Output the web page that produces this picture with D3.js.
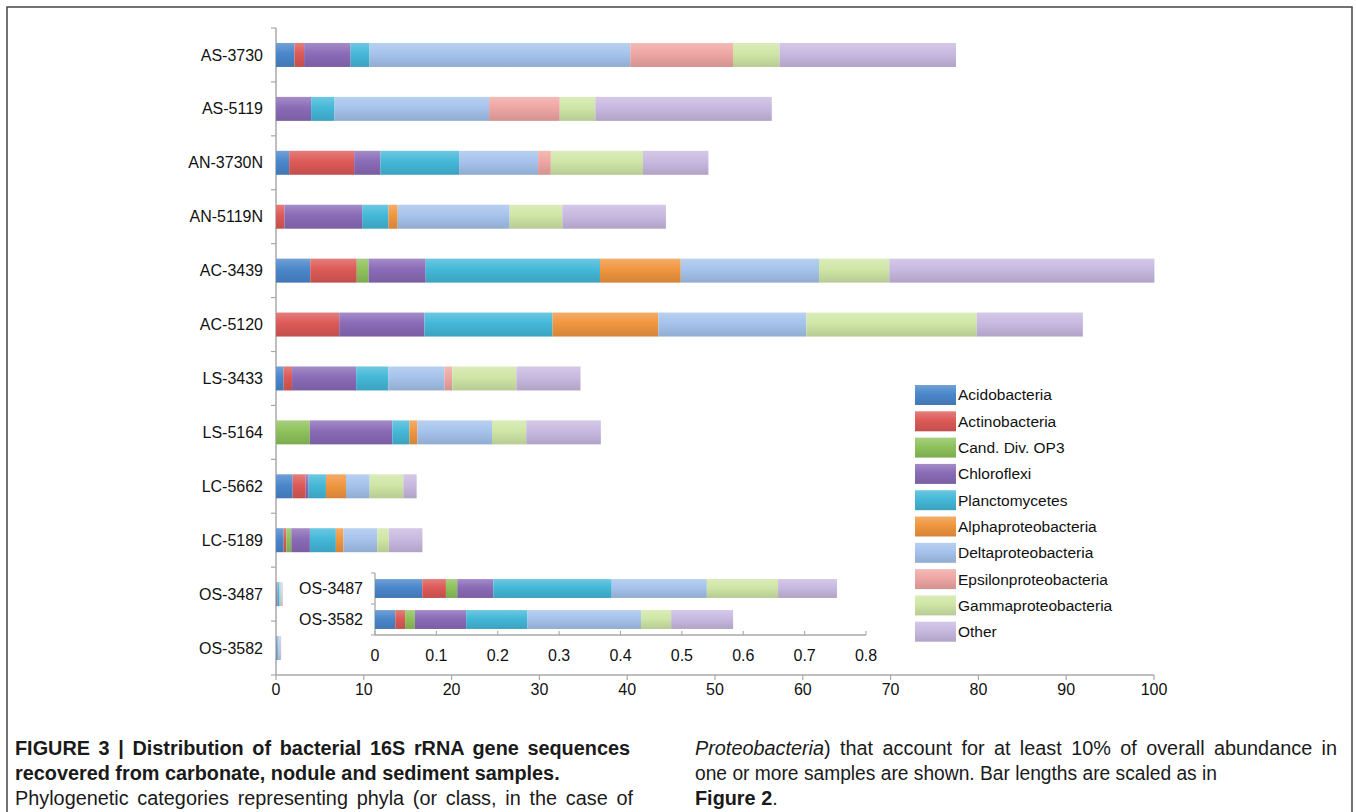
<!DOCTYPE html>
<html>
<head>
<meta charset="utf-8">
<script src="https://cdn.jsdelivr.net/npm/d3@7/dist/d3.min.js"></script>
<style>
html,body{margin:0;padding:0;background:#fff;}
svg{display:block;}
</style>
</head>
<body>
<svg id="chart" width="1356" height="812"></svg>
<script>
// ---------- DATA ----------
const categories = ["AS-3730","AS-5119","AN-3730N","AN-5119N","AC-3439","AC-5120","LS-3433","LS-5164","LC-5662","LC-5189","OS-3487","OS-3582"];
const seriesNames = ["Acidobacteria","Actinobacteria","Cand. Div. OP3","Chloroflexi","Planctomycetes","Alphaproteobacteria","Deltaproteobacteria","Epsilonproteobacteria","Gammaproteobacteria","Other"];
const seriesColors = ["#4a87cb","#dc5a57","#8ec25b","#8a6bb7","#44b8d8","#f0963f","#a5c3ec","#eea6a3","#cfe6a6","#c8b9e0"];

const acidobacteria   = [2.1, 0,    1.5,  0,    3.9,  0,    0.87, 0,    1.9,  0.87, 0.077, 0.033];
const actinobacteria  = [1.1, 0,    7.4,  0.96, 5.3,  7.2,  0.96, 0,    1.48, 0.3,  0.0386,0.016];
const candDivOP3      = [0,   0,    0,    0,    1.35, 0,    0,    3.85, 0,    0.57, 0.0184,0.016];
const chloroflexi     = [5.3, 4.0,  3.0,  8.85, 6.5,  9.7,  7.3,  9.4,  0.34, 2.12, 0.0587,0.0835];
const planctomycetes  = [2.15,2.67, 8.95, 3.0,  19.85,14.6, 3.65, 1.95, 1.97, 2.96, 0.193, 0.1];
const alphaproteo     = [0,   0,    0,    1.05, 9.2,  12.05,0,    0.9,  2.28, 0.87, 0,     0];
const deltaproteo     = [29.7,17.6, 9.0,  12.75,15.75,16.85,6.4,  8.5,  2.7,  3.83, 0.155, 0.185];
const epsilonproteo   = [11.7,8.05, 1.45, 0,    0,    0,    0.9,  0,    0,    0,    0,     0];
const gammaproteo     = [5.3, 4.05, 10.5, 6.0,  8.0,  19.4, 7.3,  3.9,  3.83, 1.33, 0.116, 0.049];
const other           = [20.1,20.1, 7.45, 11.8, 30.2, 12.1, 7.3,  8.5,  1.52, 3.83, 0.096, 0.101];

const mainTicks  = [0,10,20,30,40,50,60,70,80,90,100];
const insetCats  = ["OS-3487","OS-3582"];
const insetTicks = [0,0.1,0.2,0.3,0.4,0.5,0.6,0.7,0.8];

const captionLeft = [
  {t:"FIGURE 3 | Distribution of bacterial 16S rRNA gene sequences", w:"bold"},
  {t:"recovered from carbonate, nodule and sediment samples.", w:"bold"},
  {t:"Phylogenetic categories representing phyla (or class, in the case of", w:"normal"}
];

// ---------- BUILD ----------
const valueArrays = [acidobacteria,actinobacteria,candDivOP3,chloroflexi,planctomycetes,alphaproteo,deltaproteo,epsilonproteo,gammaproteo,other];
const rows = categories.map((c,i)=>{
  const r = {cat:c};
  seriesNames.forEach((s,j)=> r[s] = valueArrays[j][i]);
  return r;
});
const stacked = d3.stack().keys(seriesNames)(rows);

const svg = d3.select("#chart");
const defs = svg.append("defs");
seriesColors.forEach((c,i)=>{
  const g = defs.append("linearGradient").attr("id","g"+i).attr("x1",0).attr("y1",0).attr("x2",0).attr("y2",1);
  const base = d3.color(c);
  g.append("stop").attr("offset","0%").attr("stop-color", d3.interpolateRgb(c,"#fff")(0.22));
  g.append("stop").attr("offset","45%").attr("stop-color", c);
  g.append("stop").attr("offset","100%").attr("stop-color", base.darker(0.35));
});

// frame
svg.append("rect").attr("x",7).attr("y",7).attr("width",1345).attr("height",830)
  .attr("fill","none").attr("stroke","#444").attr("stroke-width",1.5);

const x = d3.scaleLinear().domain([0,100]).range([276,1154]);
const y = d3.scaleBand().domain(categories).range([28,675]).paddingInner(0.555).paddingOuter(0.2775);

const font = "'Liberation Sans', Arial, Helvetica, sans-serif";
const axisColor = "#a8a8a8";

// y axis
const gy = svg.append("g");
gy.append("line").attr("x1",x(0)).attr("x2",x(0)).attr("y1",28).attr("y2",675).attr("stroke",axisColor).attr("stroke-width",1.5);
d3.range(categories.length+1).forEach(i=>{
  const yy = 28 + i*y.step();
  gy.append("line").attr("x1",x(0)-5).attr("x2",x(0)).attr("y1",yy).attr("y2",yy).attr("stroke",axisColor).attr("stroke-width",1.2);
});
gy.selectAll("text.cat").data(categories).join("text").attr("class","cat")
  .attr("x",263).attr("y",d=>y(d)+y.bandwidth()/2).attr("dy","0.35em")
  .attr("text-anchor","end").attr("font-family",font).attr("font-size",16).attr("fill","#111").text(d=>d);

// x axis
const gx = svg.append("g");
gx.append("line").attr("x1",x(0)).attr("x2",x(100)).attr("y1",675).attr("y2",675).attr("stroke",axisColor).attr("stroke-width",1.5);
gx.selectAll("line.t").data(mainTicks).join("line").attr("class","t")
  .attr("x1",d=>x(d)).attr("x2",d=>x(d)).attr("y1",675).attr("y2",680).attr("stroke",axisColor).attr("stroke-width",1.2);
gx.selectAll("text").data(mainTicks).join("text")
  .attr("x",d=>x(d)).attr("y",689).attr("dy","0.35em").attr("text-anchor","middle")
  .attr("font-family",font).attr("font-size",16).attr("fill","#111").text(d=>d);

// main bars
svg.append("g").selectAll("g").data(stacked).join("g")
  .attr("fill",(d,i)=>`url(#g${i})`)
  .selectAll("rect").data(d=>d).join("rect")
  .attr("x",d=>x(d[0])).attr("y",d=>y(d.data.cat))
  .attr("width",d=>Math.max(0,x(d[1])-x(d[0]))).attr("height",y.bandwidth());

// ---------- INSET ----------
const inset = svg.append("g");
inset.append("rect").attr("x",292).attr("y",563).attr("width",585).attr("height",106).attr("fill","#fff");
const xi = d3.scaleLinear().domain([0,0.8]).range([375,866]);
const yi = d3.scaleBand().domain(insetCats).range([573,635]).paddingInner(0.39).paddingOuter(0.195);
const insetRows = rows.filter(r=>insetCats.includes(r.cat));
const insetStack = d3.stack().keys(seriesNames)(insetRows);

inset.append("line").attr("x1",xi(0)).attr("x2",xi(0)).attr("y1",573).attr("y2",635).attr("stroke",axisColor).attr("stroke-width",1.3);
[573, 573+yi.step(), 635].forEach(yy=>{
  inset.append("line").attr("x1",xi(0)-4).attr("x2",xi(0)).attr("y1",yy).attr("y2",yy).attr("stroke",axisColor).attr("stroke-width",1.1);
});
inset.append("line").attr("x1",xi(0)).attr("x2",xi(0.8)).attr("y1",635).attr("y2",635).attr("stroke",axisColor).attr("stroke-width",1.3);
inset.selectAll("line.t").data(insetTicks).join("line").attr("class","t")
  .attr("x1",d=>xi(d)).attr("x2",d=>xi(d)).attr("y1",631).attr("y2",635).attr("stroke",axisColor).attr("stroke-width",1.1);
inset.selectAll("text.tk").data(insetTicks).join("text").attr("class","tk")
  .attr("x",d=>xi(d)).attr("y",655).attr("dy","0.35em").attr("text-anchor","middle")
  .attr("font-family",font).attr("font-size",16).attr("fill","#111").text(d=>d===0?"0":d3.format(".1f")(d));
inset.selectAll("text.cat").data(insetCats).join("text").attr("class","cat")
  .attr("x",363).attr("y",d=>yi(d)+yi.bandwidth()/2).attr("dy","0.35em").attr("text-anchor","end")
  .attr("font-family",font).attr("font-size",16).attr("fill","#111").text(d=>d);
inset.append("g").selectAll("g").data(insetStack).join("g")
  .attr("fill",(d,i)=>`url(#g${i})`)
  .selectAll("rect").data(d=>d).join("rect")
  .attr("x",d=>xi(d[0])).attr("y",d=>yi(d.data.cat))
  .attr("width",d=>Math.max(0,xi(d[1])-xi(d[0]))).attr("height",yi.bandwidth());

// ---------- LEGEND ----------
const legend = svg.append("g");
seriesNames.forEach((s,i)=>{
  const yy = 385 + i*26.3;
  legend.append("rect").attr("x",915).attr("y",yy).attr("width",41).attr("height",20).attr("fill",`url(#g${i})`);
  legend.append("text").attr("x",958).attr("y",yy+10).attr("dy","0.35em")
    .attr("font-family",font).attr("font-size",15.5).attr("fill","#111").text(s);
});

// ---------- CAPTION (condensed, justified via word spacing) ----------
const capFontSize = 21;
const line2Width = 545;
const probe = svg.append("text").attr("font-family",font).attr("font-size",capFontSize)
  .attr("font-weight","bold").text(captionLeft[1].t);
const sx = line2Width / probe.node().getComputedTextLength();
probe.remove();

function justify(sel, target){
  const node = sel.node();
  const nat = node.getComputedTextLength();
  const spaces = (node.textContent.match(/ /g) || []).length;
  if (spaces > 0) sel.attr("word-spacing", (target/sx - nat)/spaces);
}
function fit(sel, target){
  const nat = sel.node().getComputedTextLength();
  if (Math.abs(nat - target/sx) > 2) sel.attr("textLength", target/sx).attr("lengthAdjust","spacingAndGlyphs");
}
const capL = svg.append("g").attr("transform",`translate(15,0) scale(${sx},1)`)
  .attr("font-family",font).attr("font-size",capFontSize).attr("fill","#1a1a1a");
const leftSpec = [{w:615, j:true},{w:line2Width, j:false},{w:618, j:true}];
captionLeft.forEach((l,i)=>{
  const t = capL.append("text").attr("x",0).attr("y",755+i*25).attr("font-weight",l.w).text(l.t);
  if (leftSpec[i].j) justify(t, leftSpec[i].w); else fit(t, leftSpec[i].w);
});
const capR = svg.append("g").attr("transform",`translate(695,0) scale(${sx},1)`)
  .attr("font-family",font).attr("font-size",capFontSize).attr("fill","#1a1a1a");
const r1 = capR.append("text").attr("x",0).attr("y",755);
r1.append("tspan").attr("font-style","italic").text("Proteobacteria");
r1.append("tspan").text(") that account for at least 10% of overall abundance in");
justify(r1, 642);
const r2 = capR.append("text").attr("x",0).attr("y",780).text("one or more samples are shown. Bar lengths are scaled as in");
fit(r2, 522);
const r3 = capR.append("text").attr("x",0).attr("y",805);
r3.append("tspan").attr("font-weight","bold").text("Figure 2");
r3.append("tspan").text(".");
</script>
</body>
</html>
